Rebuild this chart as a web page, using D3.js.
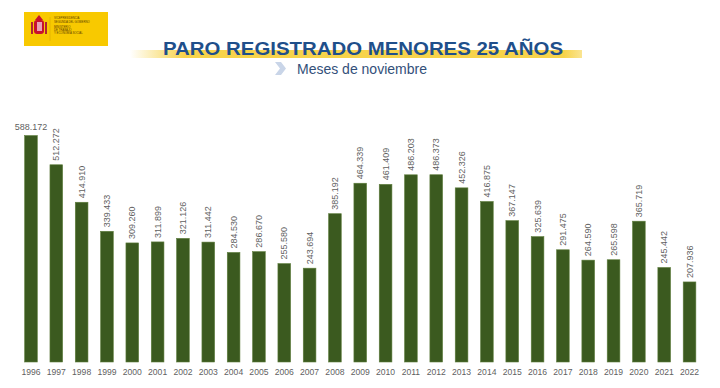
<!DOCTYPE html>
<html>
<head>
<meta charset="utf-8">
<script src="https://cdn.jsdelivr.net/npm/d3@7"></script>
<style>
  body { margin: 0; background: #fff; }
  svg { display: block; font-family: "Liberation Sans", Arial, sans-serif; }
</style>
</head>
<body>
<div id="chart"></div>
<script>
// Data
const years = ["1996","1997","1998","1999","2000","2001","2002","2003","2004","2005","2006","2007","2008","2009",
               "2010","2011","2012","2013","2014","2015","2016","2017","2018","2019","2020","2021","2022"];
const paro = [588172, 512272, 414910, 339433, 309260, 311899, 321126, 311442, 284530, 286670, 255580, 243694, 385192, 464339,
              461409, 486203, 486373, 452326, 416875, 367147, 325639, 291475, 264590, 265598, 365719, 245442, 207936];
const yTicks = [0, 600000];

const width = 720, height = 388;
const barColor = "#3b5a1f";
const labelColor = "#5f5f5f";

const svg = d3.select("#chart").append("svg")
    .attr("width", width)
    .attr("height", height);

const defs = svg.append("defs");
const grad = defs.append("linearGradient").attr("id", "band");
grad.append("stop").attr("offset", "0%").attr("stop-color", "#f7d34a").attr("stop-opacity", 0);
grad.append("stop").attr("offset", "12%").attr("stop-color", "#f7d34a").attr("stop-opacity", 1);
grad.append("stop").attr("offset", "96%").attr("stop-color", "#f7d34a").attr("stop-opacity", 1);
grad.append("stop").attr("offset", "100%").attr("stop-color", "#f7d34a").attr("stop-opacity", 0.6);

// Logo block
const logo = svg.append("g").attr("transform", "translate(24,12)");
logo.append("rect").attr("width", 84).attr("height", 34).attr("fill", "#f8c900");
// small coat of arms
logo.append("rect").attr("x", 10).attr("y", 8).attr("width", 10).attr("height", 14).attr("rx", 3).attr("fill", "#c8102e");
logo.append("rect").attr("x", 13).attr("y", 10).attr("width", 5).attr("height", 9).attr("fill", "#e8a0b4");
logo.append("rect").attr("x", 7).attr("y", 10).attr("width", 2).attr("height", 12).attr("fill", "#b22234");
logo.append("rect").attr("x", 21).attr("y", 10).attr("width", 2).attr("height", 12).attr("fill", "#b22234");
logo.append("path").attr("d", "M11,8 L15,3 L19,8 Z").attr("fill", "#c8102e");
logo.append("line").attr("x1", 26).attr("x2", 26).attr("y1", 5).attr("y2", 29)
    .attr("stroke", "#d4a000").attr("stroke-width", 0.5);
const logoLines = [
  ["VICEPRESIDENCIA", 7], ["SEGUNDA DEL GOBIERNO", 10.5],
  ["MINISTERIO", 16], ["DE TRABAJO", 19], ["Y ECONOMÍA SOCIAL", 22]
];
logo.selectAll("text.logo").data(logoLines).enter().append("text")
    .attr("x", 30).attr("y", d => d[1])
    .attr("font-size", 2.8).attr("fill", "#5a3a00")
    .text(d => d[0]);

// Title band + title
svg.append("rect").attr("x", 130).attr("y", 50).attr("width", 452).attr("height", 8).attr("fill", "url(#band)");
svg.append("text")
    .attr("x", 363).attr("y", 55)
    .attr("text-anchor", "middle")
    .attr("font-size", 17.5).attr("font-weight", "bold")
    .attr("fill", "#1f4f8b")
    .attr("textLength", 400).attr("lengthAdjust", "spacingAndGlyphs")
    .text("PARO REGISTRADO MENORES 25 AÑOS");

// subtitle with chevron
svg.append("path").attr("d", "M275,62 L281,62 L286,68.5 L281,75 L275,75 L280,68.5 Z").attr("fill", "#c9d5e8");
svg.append("text")
    .attr("x", 297).attr("y", 74)
    .attr("font-size", 14).attr("fill", "#33507a")
    .text("Meses de noviembre");

// Scales
const x = d3.scaleBand()
    .domain(years)
    .range([18.3, 702.2])
    .paddingInner(0.5)
    .paddingOuter(0.25);

const y = d3.scaleLinear()
    .domain(d3.extent(yTicks))
    .range([362, 131]);

const data = years.map((yr, i) => ({ year: yr, value: paro[i] }));
const fmt = v => d3.format(",")(v).replace(/,/g, ".");

// Bars
svg.selectAll(".bar")
    .data(data)
    .enter()
    .append("rect")
    .attr("class", "bar")
    .attr("x", d => x(d.year))
    .attr("y", d => y(d.value))
    .attr("width", x.bandwidth())
    .attr("height", d => y(0) - y(d.value))
    .attr("fill", barColor)
    .attr("stroke", "#5e7d3c")
    .attr("stroke-width", 0.6);

// Value labels: first horizontal, the rest vertical
svg.selectAll(".value-label")
    .data(data)
    .enter()
    .append("text")
    .attr("class", "value-label")
    .attr("font-size", 9)
    .attr("fill", labelColor)
    .attr("transform", (d, i) => {
        const cx = x(d.year) + x.bandwidth() / 2;
        if (i === 0) return `translate(${cx},${y(d.value) - 6})`;
        return `translate(${cx + 3.2},${y(d.value) - 4}) rotate(-90)`;
    })
    .attr("text-anchor", (d, i) => i === 0 ? "middle" : "start")
    .text(d => fmt(d.value));

// X axis
const xAxis = svg.append("g")
    .attr("transform", `translate(0,${y(0)})`)
    .call(d3.axisBottom(x).tickSize(0).tickPadding(7));
xAxis.select(".domain").remove();
xAxis.selectAll("text")
    .attr("font-size", 8.6)
    .attr("fill", labelColor)
    .attr("font-family", "Liberation Sans, Arial, sans-serif");
</script>
</body>
</html>
